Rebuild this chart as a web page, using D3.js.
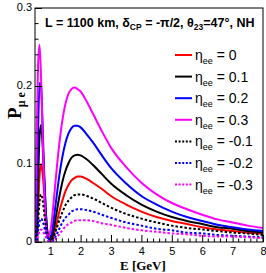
<!DOCTYPE html>
<html>
<head>
<meta charset="utf-8">
<script src="https://cdn.jsdelivr.net/npm/d3@7"></script>
<style>
  html, body { margin: 0; padding: 0; background: #fff; }
  #chart { width: 266px; height: 273px; }
</style>
</head>
<body>
<div id="chart"></div>
<script>
// neutrino energy grid (GeV)
const energy = [0.5, 0.55, 0.6, 0.65, 0.7, 0.75, 0.8, 0.85, 0.9, 0.95, 1.0, 1.05, 1.1, 1.2, 1.3, 1.4, 1.5, 1.6, 1.7, 1.8,
  1.9, 2.0, 2.2, 2.4, 2.7, 3.0, 3.5, 4.0, 4.5, 5.0, 5.5, 6.0, 6.5, 7.0, 7.5, 8.0];

// P(mu -> e) for each eta_ee
const eta00 = [0.025, 0.002, 0.041, 0.085, 0.100, 0.088, 0.063, 0.036, 0.016, 0.004, 0.002, 0.003, 0.007, 0.022, 0.039, 0.053, 0.065, 0.073, 0.079, 0.082,
  0.084, 0.084, 0.081, 0.076, 0.068, 0.059, 0.048, 0.039, 0.032, 0.027, 0.023, 0.019, 0.016, 0.014, 0.012, 0.011];
const eta01 = [0.028, 0.007, 0.074, 0.136, 0.150, 0.125, 0.084, 0.044, 0.016, 0.004, 0.004, 0.005, 0.013, 0.035, 0.058, 0.077, 0.091, 0.101, 0.108, 0.111,
  0.112, 0.111, 0.106, 0.099, 0.087, 0.075, 0.060, 0.048, 0.039, 0.032, 0.027, 0.023, 0.019, 0.017, 0.014, 0.012];
const eta02 = [0.008, 0.037, 0.140, 0.204, 0.200, 0.150, 0.091, 0.042, 0.012, 0.004, 0.005, 0.011, 0.024, 0.055, 0.085, 0.109, 0.127, 0.139, 0.146, 0.149,
  0.149, 0.147, 0.138, 0.128, 0.111, 0.095, 0.075, 0.059, 0.048, 0.039, 0.032, 0.027, 0.022, 0.019, 0.016, 0.014];
const eta03 = [0.0065, 0.117, 0.227, 0.253, 0.210, 0.139, 0.073, 0.026, 0.008, 0.006, 0.013, 0.026, 0.046, 0.088, 0.126, 0.156, 0.177, 0.190, 0.196, 0.198,
  0.196, 0.193, 0.180, 0.165, 0.142, 0.121, 0.096, 0.076, 0.061, 0.050, 0.042, 0.035, 0.029, 0.025, 0.021, 0.018];
const etaM01 = [0.015, 0.002, 0.025, 0.052, 0.061, 0.054, 0.038, 0.022, 0.010, 0.002, 0.001, 0.0014, 0.005, 0.016, 0.028, 0.038, 0.047, 0.053, 0.057, 0.060,
  0.061, 0.061, 0.059, 0.056, 0.050, 0.044, 0.036, 0.030, 0.025, 0.021, 0.018, 0.016, 0.014, 0.012, 0.011, 0.009];
const etaM02 = [0.005, 0.001, 0.014, 0.026, 0.030, 0.027, 0.020, 0.012, 0.006, 0.002, 0.0005, 0.0004, 0.002, 0.009, 0.017, 0.025, 0.031, 0.035, 0.039, 0.041,
  0.042, 0.042, 0.041, 0.039, 0.035, 0.031, 0.025, 0.021, 0.017, 0.015, 0.012, 0.011, 0.009, 0.008, 0.007, 0.006];
const etaM03 = [0.002, 0.001, 0.008, 0.014, 0.016, 0.014, 0.011, 0.007, 0.003, 0.001, 0.0002, 0.0001, 0.001, 0.005, 0.010, 0.015, 0.020, 0.023, 0.025, 0.027,
  0.028, 0.028, 0.028, 0.027, 0.024, 0.022, 0.018, 0.015, 0.013, 0.011, 0.010, 0.008, 0.007, 0.007, 0.006, 0.005];

const seriesLabels = ['0', '0.1', '0.2', '0.3', '-0.1', '-0.2', '-0.3'];
const seriesValues = [eta00, eta01, eta02, eta03, etaM01, etaM02, etaM03];
const seriesColors = ['#ff0000', '#000000', '#0000ff', '#ff00ff', '#000000', '#0000ff', '#ff00ff'];
const seriesDashed = [false, false, false, false, true, true, true];

const xTicks = [1, 2, 3, 4, 5, 6, 7, 8];
const yTicks = [0, 0.1, 0.2, 0.3];
const yTickLabels = ['0', '0.1', '0.2', '0.3'];

class ProbChart {
  constructor(id) {
    this.id = id;
    this.width = 266;
    this.height = 273;
    this.margin = { top: 8, right: 3, bottom: 31, left: 35 };
    this.svg = null;
    this.mg = null;
  }

  init() {
    this.svg = d3.select(`#${this.id}`).append('svg')
      .attr('width', this.width)
      .attr('height', this.height)
      .attr('font-family', 'Liberation Sans, Arial, sans-serif');
    this.innerWidth = this.width - this.margin.left - this.margin.right;
    this.innerHeight = this.height - this.margin.top - this.margin.bottom;
    this.mg = this.svg.append('g')
      .attr('transform', `translate(${this.margin.left},${this.margin.top})`);
    this.x = d3.scaleLinear().domain([0.5, 8]).range([0, this.innerWidth]);
    this.y = d3.scaleLinear().domain([0, 0.3]).range([this.innerHeight, 0]);
    return this;
  }

  render() {
    this.renderCurves();
    this.renderFrame();
    this.renderAxes();
    this.renderTitle();
    this.renderLegend();
    return this;
  }

  renderCurves() {
    this.mg.append('clipPath').attr('id', 'plotClip')
      .append('rect').attr('width', this.innerWidth).attr('height', this.innerHeight);
    const line = d3.line()
      .x(d => this.x(d[0]))
      .y(d => this.y(d[1]))
      .curve(d3.curveMonotoneX);
    this.mg.append('g')
      .attr('clip-path', 'url(#plotClip)')
      .attr('fill', 'none')
      .selectAll('path')
      .data(seriesValues)
      .join('path')
      .attr('d', vals => line(energy.map((e, i) => [e, vals[i]])))
      .attr('stroke', (d, i) => seriesColors[i])
      .attr('stroke-width', 2)
      .attr('stroke-dasharray', (d, i) => seriesDashed[i] ? '2.5,2' : null);
  }

  renderFrame() {
    this.mg.append('rect')
      .attr('width', this.innerWidth)
      .attr('height', this.innerHeight)
      .attr('fill', 'none')
      .attr('stroke', '#000')
      .attr('stroke-width', 1);
  }

  renderAxes() {
    const xMinor = d3.range(0.6, 8.001, 0.2).filter(v => Math.abs(v - Math.round(v)) > 0.01);
    const yMinor = d3.range(0.02, 0.3, 0.02).filter(v => Math.abs(v * 10 - Math.round(v * 10)) > 0.01);

    const xAxis = this.mg.append('g')
      .attr('transform', `translate(0,${this.innerHeight})`)
      .call(d3.axisBottom(this.x).tickValues(xTicks).tickSize(-7).tickPadding(5).tickFormat(d3.format('d')));
    xAxis.append('g').selectAll('line').data(xMinor).join('line')
      .attr('x1', d => this.x(d)).attr('x2', d => this.x(d))
      .attr('y1', 0).attr('y2', -3.5).attr('stroke', '#000');

    const yAxis = this.mg.append('g')
      .call(d3.axisLeft(this.y).tickValues(yTicks).tickSize(-7).tickPadding(3).tickFormat((d, i) => yTickLabels[i]));
    yAxis.append('g').selectAll('line').data(yMinor).join('line')
      .attr('y1', d => this.y(d)).attr('y2', d => this.y(d))
      .attr('x1', 0).attr('x2', 3.5).attr('stroke', '#000');

    [xAxis, yAxis].forEach(a => {
      a.select('.domain').remove();
      a.selectAll('.tick line').attr('stroke', '#000');
      a.selectAll('.tick text')
        .attr('fill', '#000')
        .attr('font-size', 11)
        .attr('font-family', 'Liberation Sans, Arial, sans-serif');
    });
    yAxis.selectAll('.tick text').attr('dy', '0.2em');

    // axis titles
    this.svg.append('text')
      .attr('x', this.margin.left + this.x(4.05))
      .attr('y', 270)
      .attr('text-anchor', 'middle')
      .attr('font-family', 'Liberation Serif, Times New Roman, serif')
      .attr('font-weight', 'bold')
      .attr('font-size', 13)
      .text('E [GeV]');

    const yl = this.svg.append('text')
      .attr('transform', `translate(21,${this.margin.top + this.y(0.175)}) rotate(-90)`)
      .attr('text-anchor', 'middle')
      .attr('font-family', 'Liberation Serif, Times New Roman, serif')
      .attr('font-weight', 'bold');
    yl.append('tspan').attr('font-size', 19).text('P');
    yl.append('tspan').attr('font-size', 12).attr('dy', 4).text('μ e');
  }

  renderTitle() {
    const t = this.svg.append('text')
      .attr('x', 45)
      .attr('y', 27)
      .attr('font-size', 12.5)
      .attr('font-weight', 'bold');
    t.append('tspan').text('L = 1100 km, δ');
    t.append('tspan').attr('font-size', 8.5).attr('dy', 3).text('CP');
    t.append('tspan').attr('dy', -3).text(' = -π/2, θ');
    t.append('tspan').attr('font-size', 8.5).attr('dy', 3).text('23');
    t.append('tspan').attr('dy', -3).text('=47°, NH');
  }

  renderLegend() {
    const lg = this.svg.append('g')
      .selectAll('g')
      .data(seriesLabels)
      .join('g')
      .attr('transform', (d, i) => `translate(175,${55 + i * 21.6})`);
    lg.append('line')
      .attr('x1', 0).attr('x2', 17)
      .attr('stroke', (d, i) => seriesColors[i])
      .attr('stroke-width', 2)
      .attr('stroke-dasharray', (d, i) => seriesDashed[i] ? '2,1.6' : null);
    const txt = lg.append('text')
      .attr('x', 20)
      .attr('y', 5)
      .attr('font-size', 14);
    txt.append('tspan').text('η');
    txt.append('tspan').attr('font-size', 9).attr('dy', 4).text('ee');
    txt.append('tspan').attr('dy', -4).text(d => ` = ${d}`);
  }
}

new ProbChart('chart').init().render();
</script>
</body>
</html>
